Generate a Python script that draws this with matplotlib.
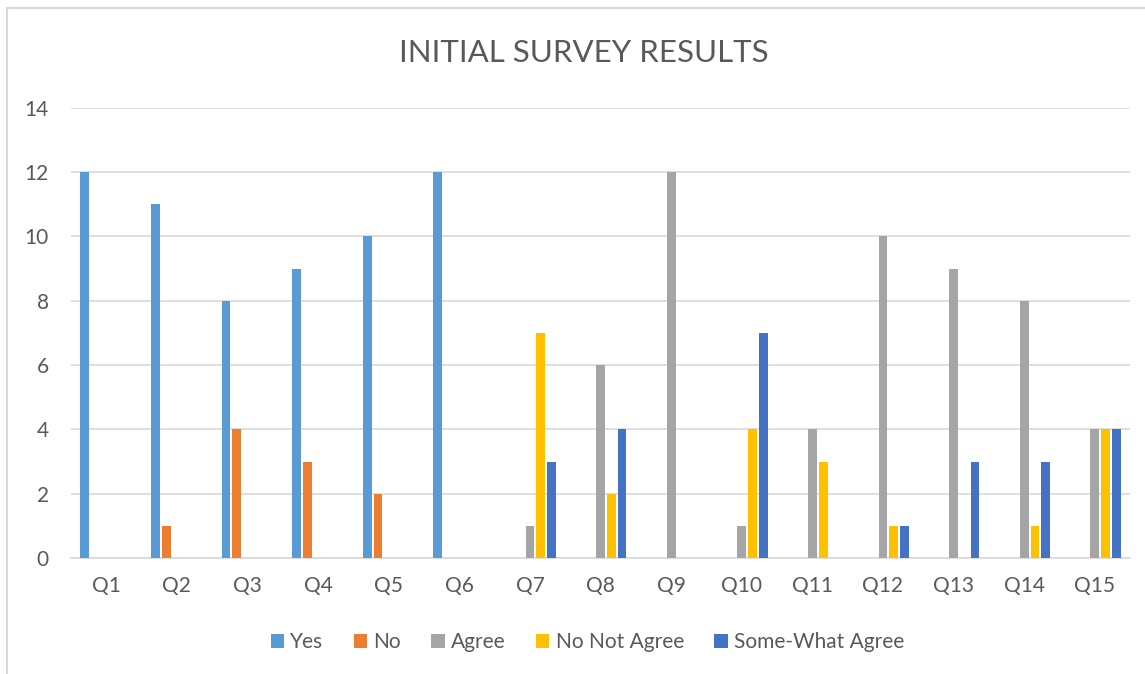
import numpy as np
import matplotlib.pyplot as plt
from matplotlib.patches import Rectangle

plt.rcParams['font.family'] = ['Lato', 'DejaVu Sans']

questions = [f"Q{i}" for i in range(1, 16)]
series = ["Yes", "No", "Agree", "No Not Agree", "Some-What Agree"]
yes = [12, 11, 8, 9, 10, 12, 0, 0, 0, 0, 0, 0, 0, 0, 0]
no = [0, 1, 4, 3, 2, 0, 0, 0, 0, 0, 0, 0, 0, 0, 0]
agree = [0, 0, 0, 0, 0, 0, 1, 6, 12, 1, 4, 10, 9, 8, 4]
no_not_agree = [0, 0, 0, 0, 0, 0, 7, 2, 0, 4, 3, 1, 0, 1, 4]
somewhat_agree = [0, 0, 0, 0, 0, 0, 3, 4, 0, 7, 0, 1, 3, 3, 4]
colors = ["#5B9BD5", "#ED7D31", "#A5A5A5", "#FFC000", "#4472C4"]

text_color = "#595959"
grid_color = "#D9D9D9"

fig = plt.figure(figsize=(11.45, 6.74), dpi=100)
ax = fig.add_axes([0.062, 0.172, 0.925, 0.668])

x = np.arange(len(questions))
pitch = 0.152
width = 0.125
for i, (name, vals, c) in enumerate(zip(series, [yes, no, agree, no_not_agree, somewhat_agree], colors)):
    ax.bar(x + (i - 2) * pitch, vals, width, color=c, label=name, zorder=3)

ax.set_xlim(-0.5, len(questions) - 0.5)
ax.set_ylim(0, 14)
ax.set_yticks(range(0, 15, 2))
ax.set_xticks(x)
ax.set_xticklabels(questions)
ax.grid(axis="y", color=grid_color, linewidth=1.2, zorder=0)
for s in ["top", "right", "left"]:
    ax.spines[s].set_visible(False)
ax.spines["bottom"].set_color(grid_color)
ax.spines["bottom"].set_linewidth(1.2)
ax.tick_params(axis="both", length=0, labelsize=15, colors=text_color)
ax.tick_params(axis="x", pad=13)
ax.tick_params(axis="y", pad=16)

fig.text(0.51, 0.922, "INITIAL SURVEY RESULTS", ha="center", va="center",
         fontsize=22.5, color=text_color)

ax.legend(loc="center", bbox_to_anchor=(0.513, 0.047), bbox_transform=fig.transFigure,
          ncol=5, frameon=False, fontsize=15, labelcolor=text_color,
          handlelength=0.65, handleheight=0.65, handletextpad=0.3, columnspacing=1.45)

fig.patches.append(Rectangle((7 / 1145, -0.05), 1.1, 1.05 - 8 / 674, transform=fig.transFigure,
                             fill=False, edgecolor=grid_color, linewidth=1.5))

fig.savefig("out.png", dpi=100)
